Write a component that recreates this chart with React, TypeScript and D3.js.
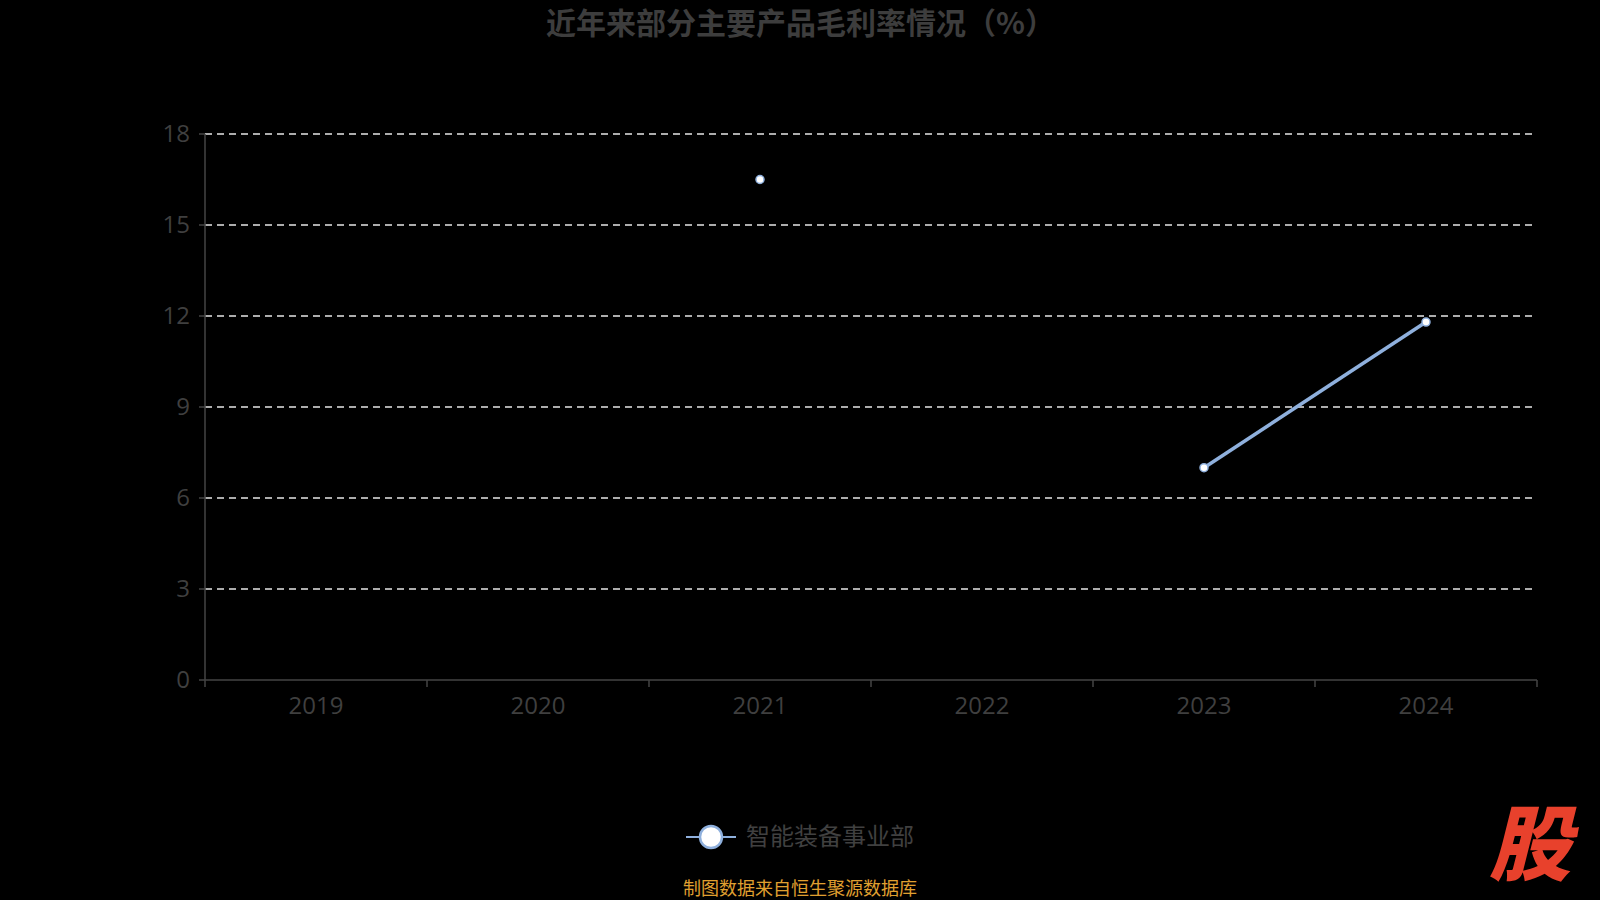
import React from "react";
import * as d3 from "d3";

const categories = ["2019", "2020", "2021", "2022", "2023", "2024"];
const seriesName = "智能装备事业部";
const seriesValues: (number | null)[] = [null, null, 16.5, null, 7.0, 11.8];
const yTicks = [0, 3, 6, 9, 12, 15, 18];
const title = "近年来部分主要产品毛利率情况（%）";
const footer = "制图数据来自恒生聚源数据库";

const W = 1600;
const H = 900;
const left = 205;
const right = 1537;
const top = 134;
const bottom = 680;

export default function App() {
  const x = d3.scaleBand<string>().domain(categories).range([left, right]);
  const y = d3.scaleLinear().domain([0, 18]).range([bottom, top]);
  const cx = (c: string) => (x(c) as number) + x.bandwidth() / 2;
  const pts = categories.map((c, i) => ({ c, v: seriesValues[i] }));
  const line = d3
    .line<{ c: string; v: number | null }>()
    .defined((d) => d.v !== null)
    .x((d) => cx(d.c))
    .y((d) => y(d.v as number));
  const font = "'Open Sans', 'Noto Sans CJK SC', sans-serif";
  const cjk = "'Noto Sans CJK SC', sans-serif";
  const ticksX = [...categories.map((c) => x(c) as number), right];
  return (
    <svg width={W} height={H} style={{ position: "absolute", left: 0, top: 0, background: "#000" }}>
      <rect x={0} y={0} width={W} height={H} fill="#000" />
      <text x={546} y={34} textAnchor="start" fontFamily={cjk} fontWeight="bold" fontSize={30} fill="#3d3d3d">
        {title}
      </text>
      {yTicks.map((t) =>
        t === 0 ? null : (
          <line key={"g" + t} x1={left} x2={right} y1={y(t)} y2={y(t)} stroke="#e6e6e6" strokeWidth={1.5} strokeDasharray="7,5" />
        )
      )}
      <line x1={left} x2={left} y1={top} y2={bottom} stroke="#444" strokeWidth={1.5} />
      <line x1={left} x2={right} y1={bottom} y2={bottom} stroke="#444" strokeWidth={1.5} />
      {yTicks.map((t) => (
        <g key={"y" + t}>
          <line x1={left - 6} x2={left} y1={y(t)} y2={y(t)} stroke="#444" strokeWidth={1.5} />
          <text x={left - 15} y={y(t)} dy="0.35em" textAnchor="end" fontFamily={font} fontSize={24} fill="#3f3f3f">
            {t}
          </text>
        </g>
      ))}
      {ticksX.map((tx, i) => (
        <line key={"xt" + i} x1={tx} x2={tx} y1={bottom} y2={bottom + 7} stroke="#444" strokeWidth={1.5} />
      ))}
      {categories.map((c) => (
        <text key={"x" + c} x={cx(c)} y={714} textAnchor="middle" fontFamily={font} fontSize={24} fill="#3f3f3f">
          {c}
        </text>
      ))}
      <path d={line(pts) || ""} fill="none" stroke="#8fb0dd" strokeWidth={3.5} />
      {pts
        .filter((d) => d.v !== null)
        .map((d) => (
          <circle key={"p" + d.c} cx={cx(d.c)} cy={y(d.v as number)} r={4} fill="#fff" stroke="#8fb0dd" strokeWidth={1.5} />
        ))}
      <line x1={686} x2={736} y1={837} y2={837} stroke="#8fb0dd" strokeWidth={2} />
      <circle cx={711} cy={837} r={11} fill="#fff" stroke="#8fb0dd" strokeWidth={2.5} />
      <text x={746} y={837} dy="0.35em" fontFamily={cjk} fontSize={24} fill="#404040">
        {seriesName}
      </text>
      <text x={800} y={889} dy="0.35em" textAnchor="middle" fontFamily={cjk} fontSize={18} fill="#e0a030">
        {footer}
      </text>
      <text x={1530} y={874} textAnchor="middle" fontFamily={cjk} fontWeight={900} fontStyle="italic" fontSize={82} fill="#e8412c">
        股
      </text>
    </svg>
  );
}
